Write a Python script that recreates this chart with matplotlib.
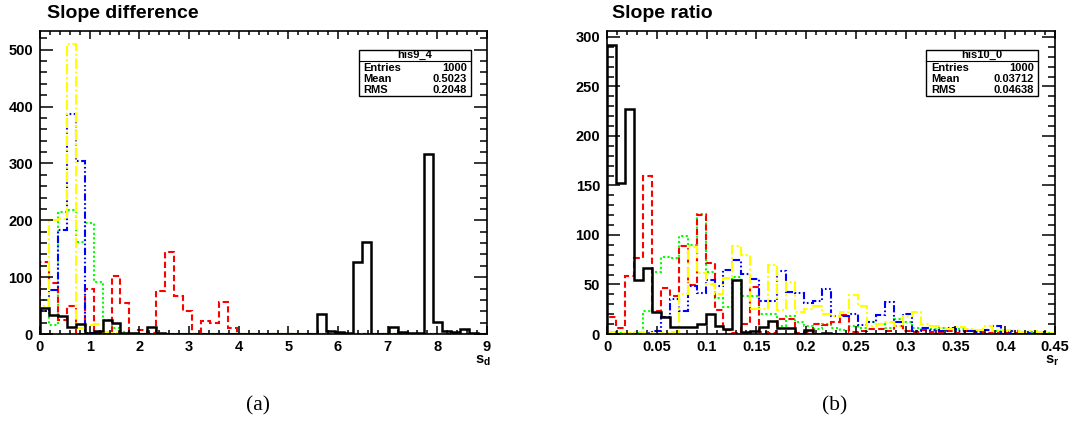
import numpy as np
import matplotlib
matplotlib.use('Agg')
import matplotlib.pyplot as plt
from matplotlib.patches import Rectangle
from matplotlib.ticker import MultipleLocator, FixedLocator, FixedFormatter

plt.rcParams['font.family'] = ['Liberation Sans', 'DejaVu Sans']
plt.rcParams['mathtext.fontset'] = 'custom'
plt.rcParams['mathtext.bf'] = 'Liberation Sans:bold'
plt.rcParams['mathtext.rm'] = 'Liberation Sans'

# ---- left panel: slope difference, 50 bins on [0,9]
edges_d = np.linspace(0, 9, 51)
black_d = [45, 33, 32, 13, 18, 2, 5, 24, 19, 1,
           1, 0, 12, 1, 0, 0, 0, 0, 0, 0,
           0, 0, 0, 0, 0, 0, 0, 0, 0, 0,
           0, 35, 6, 3, 1, 127, 161, 0, 0, 13,
           4, 2, 1, 317, 21, 6, 4, 9, 1, 0]
yellow_d = [50, 200, 202, 510, 10, 15, 18, 3, 1, 0] + [0] * 40
blue_d = [40, 77, 183, 387, 305, 2, 1, 0, 0, 0] + [0] * 40
green_d = [60, 15, 215, 218, 162, 195, 91, 25, 10, 3] + [0] * 40
red_d = [127, 89, 25, 49, 0, 80, 2, 0, 102, 54,
         0, 7, 1, 76, 145, 67, 41, 0, 23, 20,
         56, 11, 0, 0, 0, 0, 0, 0, 0, 0] + [0] * 20

# ---- right panel: slope ratio, 50 bins on [0,0.45]
edges_r = np.linspace(0, 0.45, 51)
black_r = [292, 152, 227, 55, 67, 22, 17, 7, 7, 7,
           10, 20, 8, 5, 55, 2, 3, 7, 13, 6,
           6, 0, 4, 0, 1, 0, 0, 0, 0, 0] + [0] * 20
red_r = [17, 6, 59, 77, 160, 23, 46, 38, 89, 49,
         120, 72, 24, 4, 1, 10, 47, 2, 1, 15,
         15, 1, 2, 10, 9, 12, 19, 2, 3, 5,
         5, 3, 8, 3, 2, 4, 2, 2, 3, 1,
         3, 2, 1, 2, 1, 1, 1, 0, 1, 0]
green_r = [1, 1, 1, 1, 23, 63, 78, 77, 99, 90,
           121, 63, 36, 27, 58, 38, 38, 20, 20, 8,
           18, 12, 8, 5, 10, 6, 4, 8, 6, 12,
           10, 6, 15, 12, 6, 5, 5, 6, 4, 5,
           4, 3, 4, 3, 3, 3, 2, 2, 2, 1]
blue_r = [2, 0, 0, 0, 1, 3, 17, 35, 23, 48,
          41, 55, 48, 65, 75, 61, 56, 33, 33, 64,
          42, 41, 31, 33, 45, 18, 18, 20, 9, 12,
          19, 32, 12, 20, 3, 6, 4, 3, 6, 3,
          3, 2, 4, 8, 2, 3, 2, 1, 2, 1]
yellow_r = [2, 1, 1, 2, 1, 0, 1, 2, 40, 88,
            62, 50, 40, 57, 89, 80, 25, 25, 70, 24,
            53, 22, 25, 28, 20, 18, 22, 39, 28, 8,
            10, 12, 8, 18, 22, 10, 8, 6, 5, 7,
            5, 4, 8, 3, 4, 3, 2, 3, 2, 1]

xt_d = [0, 1, 2, 3, 4, 5, 6, 7, 8, 9]
yt_d = [0, 100, 200, 300, 400, 500]
xt_r = [0, 0.05, 0.1, 0.15, 0.2, 0.25, 0.3, 0.35, 0.4, 0.45]
xt_r_lab = ['0', '0.05', '0.1', '0.15', '0.2', '0.25', '0.3', '0.35', '0.4', '0.45']
yt_r = [0, 50, 100, 150, 200, 250, 300]

stat_d = ['his9_4', '1000', '0.5023', '0.2048']
stat_r = ['his10_0', '1000', '0.03712', '0.04638']

W, H = 1070, 422
fig = plt.figure(figsize=(W / 100, H / 100), dpi=100)

def px(x, y):
    return x / W, 1 - y / H

styles = [  # color, dashes
    ('#00ff00', (1.0, 1.2)),
    ('#ff0000', (3.0, 1.6)),
    ('#0000ff', (3.5, 1.2, 0.8, 1.2, 0.8, 1.2)),
    ('#ffff00', (5.0, 1.3, 1.0, 1.3)),
]

def panel(rect, edges, series, black, xt, xtl, yt, ylim, xminor, yminor):
    ax = fig.add_axes(rect)
    for (c, d), v in zip(styles, series):
        ax.stairs(v, edges, color=c, lw=1.5, linestyle=(0, d), baseline=0)
    ax.stairs(black, edges, color='black', lw=1.8, baseline=0)
    ax.set_xlim(edges[0], edges[-1])
    ax.set_ylim(0, ylim)
    ax.xaxis.set_major_locator(FixedLocator(xt))
    ax.xaxis.set_major_formatter(FixedFormatter(xtl))
    ax.xaxis.set_minor_locator(MultipleLocator(xminor))
    ax.yaxis.set_major_locator(FixedLocator(yt))
    ax.yaxis.set_minor_locator(MultipleLocator(yminor))
    ax.tick_params(which='both', direction='in', top=True, right=True, width=1.1)
    ax.tick_params(axis='y', which='major', length=9.5, pad=5)
    ax.tick_params(axis='y', which='minor', length=5)
    ax.tick_params(axis='x', which='major', length=6, pad=4)
    ax.tick_params(axis='x', which='minor', length=3)
    for lab in ax.get_xticklabels() + ax.get_yticklabels():
        lab.set_fontweight('bold')
        lab.set_fontsize(10.5)
    for s in ax.spines.values():
        s.set_linewidth(1.2)
    return ax

ax1 = panel([40 / W, 88 / H, 447 / W, 303 / H], edges_d,
            [green_d, red_d, blue_d, yellow_d], black_d,
            xt_d, [str(v) for v in xt_d], yt_d, 533, 0.2, 20)
ax2 = panel([607 / W, 88 / H, 448 / W, 303 / H], edges_r,
            [green_r, red_r, blue_r, yellow_r], black_r,
            xt_r, xt_r_lab, yt_r, 306, 0.01, 10)

fig.text(*px(47, 18), 'Slope difference', fontsize=14, fontweight='bold', va='baseline')
fig.text(*px(612, 18), 'Slope ratio', fontsize=14, fontweight='bold', va='baseline')

fig.text(*px(491, 363), r'$\mathbf{s}_{\mathbf{d}}$', fontsize=10.5, ha='right', va='baseline')
fig.text(*px(1059, 363), r'$\mathbf{s}_{\mathbf{r}}$', fontsize=10.5, ha='right', va='baseline')

fig.text(*px(258, 410), '(a)', fontsize=15.5, family='Liberation Serif', ha='center', va='baseline')
fig.text(*px(835, 410), '(b)', fontsize=15.5, family='Liberation Serif', ha='center', va='baseline')

def statbox(x0, x1, vals):
    y0, ysep, y1 = 50, 61, 95.5
    fig.add_artist(Rectangle(px(x0, y1), (x1 - x0) / W, (y1 - y0) / H,
                             transform=fig.transFigure, fill=True, fc='white',
                             ec='black', lw=1.0))
    fig.add_artist(plt.Line2D([x0 / W, x1 / W], [1 - ysep / H] * 2,
                              transform=fig.transFigure, color='black', lw=0.8))
    fig.text(*px((x0 + x1) / 2, 55.3), vals[0], fontsize=8, fontweight='bold',
             ha='center', va='center')
    for yy, name, v in zip([67.8, 79.2, 90.4], ['Entries', 'Mean', 'RMS'], vals[1:]):
        fig.text(*px(x0 + 5, yy), name, fontsize=8, fontweight='bold', va='center')
        fig.text(*px(x1 - 4, yy), v, fontsize=8, fontweight='bold', va='center', ha='right')

statbox(358.7, 470.7, stat_d)
statbox(926, 1038.3, stat_r)

fig.savefig('out.png', dpi=100)
